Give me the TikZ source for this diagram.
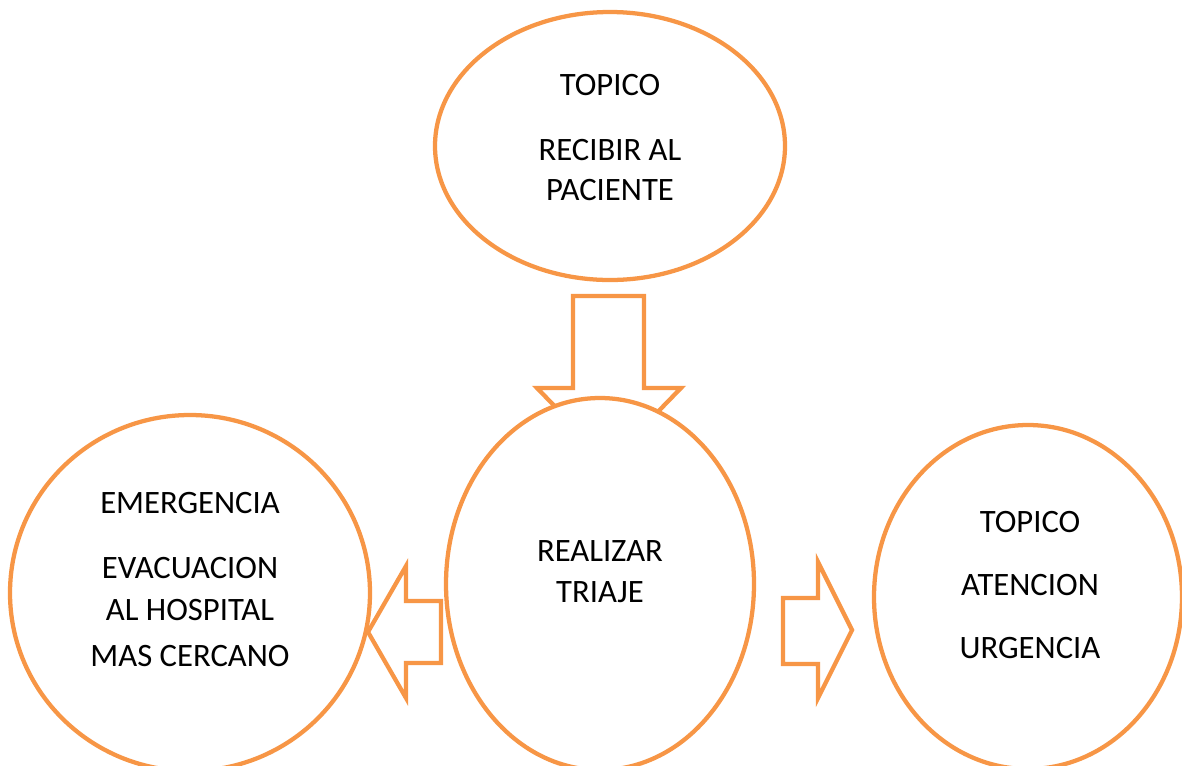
\documentclass[tikz,border=0pt]{standalone}
\usepackage{fontspec}
\setmainfont{Carlito}
\usepackage{tikz}
\usetikzlibrary{positioning,calc,shapes.geometric}
\definecolor{offorange}{RGB}{247,150,70}
\tikzset{
  every picture/.append style={line width=3pt},
  every node/.append style={font=\fontsize{24.5}{30}\selectfont},
}
\tikzset{
  bubble/.style={ellipse, draw=offorange, line width=3.2pt, fill=white, inner sep=0pt},
  blockarrow/.style={draw=offorange, line width=3.2pt, fill=white, line join=miter},
  txt/.style={inner sep=0pt, anchor=base}
}

\begin{document}
\begin{tikzpicture}[x=0.75pt, y=-0.75pt]

\useasboundingbox (0,0) rectangle (1182,765);

% Down arrow (behind the middle ellipse)
\coordinate (dtip) at (609,462);
\draw[blockarrow] (573,296) -- (644,296) -- (644,388) -- (681,388) -- (dtip)
  -- (537,388) -- (573,388) -- cycle;

% Ellipses
\node[bubble, minimum width=350*0.75pt, minimum height=268*0.75pt] (top) at (610,146) {};
\node[bubble, minimum width=308*0.75pt, minimum height=372*0.75pt] (mid) at (600,584) {};
\node[bubble, minimum width=360*0.75pt, minimum height=356*0.75pt] (left) at (190,593) {};
\node[bubble, minimum width=308*0.75pt, minimum height=344*0.75pt] (right) at (1028,597) {};

% Side arrows
\draw[blockarrow] (441,601) -- (441,663) -- (406,663) -- (406,698) -- (368,632)
  -- (406,566) -- (406,601) -- cycle;
\draw[blockarrow] (783,598) -- (818,598) -- (818,562) -- (852,630) -- (818,698)
  -- (818,664) -- (783,664) -- cycle;

% Texts
\node[txt] (topa) at (610,95) {TOPICO};
\node[txt] (topb) at (610,160) {RECIBIR AL};
\node[txt] (topc) at (610,200) {PACIENTE};

\node[txt] (mida) at (600,561) {REALIZAR};
\node[txt] (midb) at (600,602) {TRIAJE};

\node[txt] (lefta) at (190,513) {EMERGENCIA};
\node[txt] (leftb) at (190,578) {EVACUACION};
\node[txt] (leftc) at (190,620) {AL HOSPITAL};
\node[txt] (leftd) at (190,666) {MAS CERCANO};

\node[txt] (righta) at (1030,532) {TOPICO};
\node[txt] (rightb) at (1030,595) {ATENCION};
\node[txt] (rightc) at (1030,658) {URGENCIA};

\end{tikzpicture}
\end{document}
